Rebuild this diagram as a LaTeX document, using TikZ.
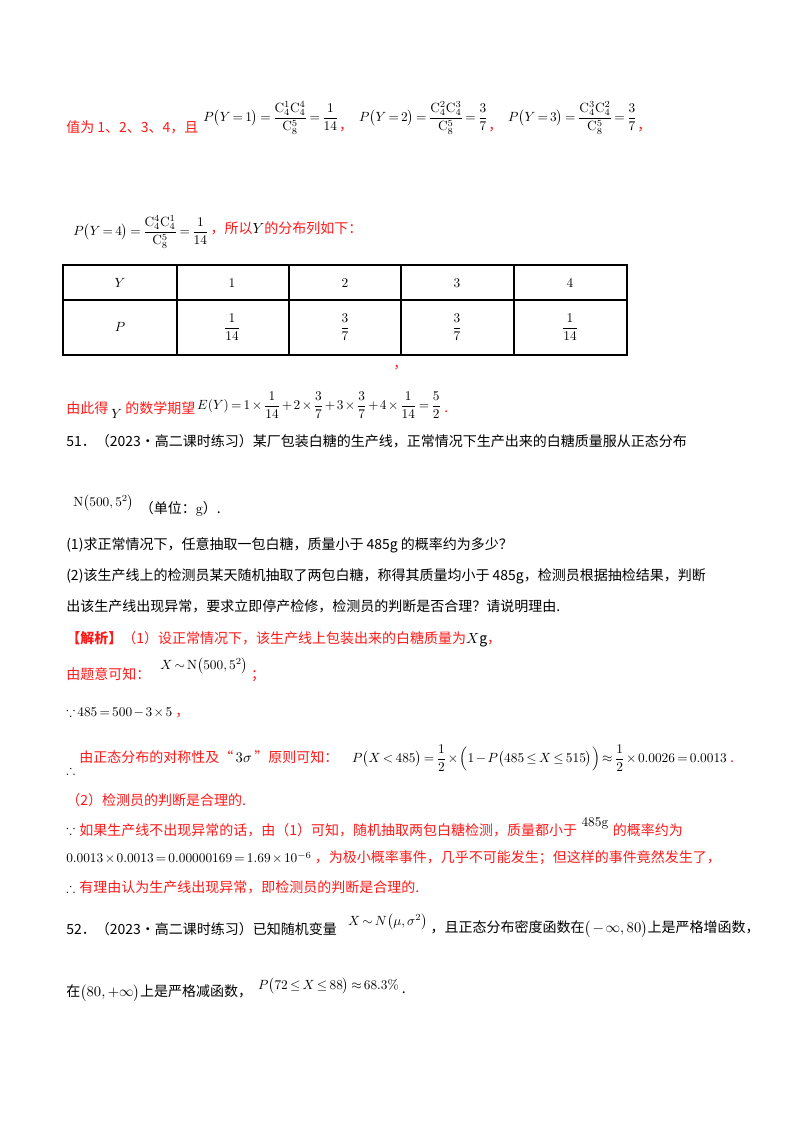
\documentclass[tikz,border=0pt]{standalone}
\usepackage{amsmath,amssymb}
\usepackage{fontspec}
\newfontfamily\cjk{Noto Sans CJK SC}
\definecolor{rd}{HTML}{FF1A1A}
\medmuskip=2mu plus 1mu minus 2mu
\thickmuskip=3mu plus 2mu
\begin{document}
\begin{tikzpicture}[x=0.75pt,y=-0.75pt,
  t/.style={anchor=west,inner sep=0pt,font=\fontsize{10.5}{12}\selectfont\cjk},
  r/.style={t,text=rd},
  m/.style={anchor=west,inner sep=0pt,font=\fontsize{10}{12}\selectfont},
  cell/.style={inner sep=0pt,font=\fontsize{10}{12}\selectfont}]
\useasboundingbox[fill=white] (0,0) rectangle (800,1132);
% line 1
\node[r] (a1) at (66,127) {值为 1、2、3、4，且};
\node[m] (a2) at (203,118) {$P\big(Y=1\big)=\dfrac{\mathrm{C}_4^1\mathrm{C}_4^4}{\mathrm{C}_8^5}=\dfrac{1}{14}$};
\node[r] (a3) at ([yshift=-9]a2.east) {，};
\node[m] (a4) at ([xshift=4]a3.east|-a2) {$P\big(Y=2\big)=\dfrac{\mathrm{C}_4^2\mathrm{C}_4^3}{\mathrm{C}_8^5}=\dfrac{3}{7}$};
\node[r] (a5) at (a4.east|-a3) {，};
\node[m] (a6) at ([xshift=4]a5.east|-a2) {$P\big(Y=3\big)=\dfrac{\mathrm{C}_4^3\mathrm{C}_4^2}{\mathrm{C}_8^5}=\dfrac{3}{7}$};
\node[r] (a7) at (a6.east|-a3) {，};
% line 2
\node[m] (b1) at (73,232) {$P\big(Y=4\big)=\dfrac{\mathrm{C}_4^4\mathrm{C}_4^1}{\mathrm{C}_8^5}=\dfrac{1}{14}$};
\node[r] (b2) at ([xshift=1]b1.east|-0,228) {，所以\textcolor{black}{$Y$}的分布列如下：};
% table
\draw[line width=0.8pt] (63,265) rectangle (627,355);
\draw[line width=0.8pt] (63,300) -- (627,300);
\foreach \xx in {177,289,401,514} \draw[line width=0.8pt] (\xx,265) -- (\xx,355);
\node[cell] (y0) at (120,283) {$Y$};
\node[cell] (p0) at (120,327) {$P$};
\node[cell] (y1) at (232,283) {1};
\node[cell] (y2) at (345,283) {2};
\node[cell] (y3) at (457,283) {3};
\node[cell] (y4) at (570,283) {4};
\node[cell] (p1) at (232,327) {$\dfrac{1}{14}$};
\node[cell] (p2) at (345,327) {$\dfrac{3}{7}$};
\node[cell] (p3) at (457,327) {$\dfrac{3}{7}$};
\node[cell] (p4) at (570,327) {$\dfrac{1}{14}$};
\node[r] (tc) at (393,368) {，};
% expectation
\node[r] (c1) at (66,408) {由此得};
\node[m] (c2) at ([xshift=2]c1.east|-0,414) {$Y$};
\node[r] (c3) at ([xshift=2]c2.east|-c1) {的数学期望};
\node[m] (c4) at ([xshift=1]c3.east|-0,405) {$E(Y)=1\times\dfrac{1}{14}+2\times\dfrac{3}{7}+3\times\dfrac{3}{7}+4\times\dfrac{1}{14}=\dfrac{5}{2}$};
\node[r] (c5) at ([xshift=2]c4.east|-0,412) {.};
% 51
\node[t] (d1) at (66,441) {51．（2023·高二课时练习）某厂包装白糖的生产线，正常情况下生产出来的白糖质量服从正态分布};
\node[m] (d2) at (73,503) {$\mathrm{N}\big(500,5^2\big)$};
\node[t] (d3) at ([xshift=4]d2.east|-0,509) {（单位：$\mathrm{g}$）.};
\node[t] (e1) at (66,545) {(1)求正常情况下，任意抽取一包白糖，质量小于 485g 的概率约为多少？};
\node[t] (e2) at (66,576) {(2)该生产线上的检测员某天随机抽取了两包白糖，称得其质量均小于 485g，检测员根据抽检结果，判断};
\node[t] (e3) at (66,606) {出该生产线出现异常，要求立即停产检修，检测员的判断是否合理？请说明理由.};
% solution
\node[r] (f1) at (66,639) {\textbf{【解析】}（1）设正常情况下，该生产线上包装出来的白糖质量为\textcolor{black}{$X$g}，};
\node[r] (g1) at (66,674) {由题意可知：};
\node[m] (g2) at (160,666) {$X\sim\mathrm{N}\big(500,5^2\big)$};
\node[r] (g3) at ([xshift=2]g2.east|-0,676) {；};
\node[m] (h1) at (66,712) {$\because 485=500-3\times5$};
\node[r] (h2) at ([xshift=2]h1.east|-0,716) {，};
\node[m] (i0) at (66,770) {$\therefore$};
\node[r] (i1) at (79,757) {由正态分布的对称性及“\textcolor{black}{$\,3\sigma\,$}”原则可知：};
\node[m] (i2) at ([xshift=10]i1.east|-0,758) {$P\big(X<485\big)=\dfrac{1}{2}\times\Big(1-P\big(485\leq X\leq515\big)\Big)\approx\dfrac{1}{2}\times0.0026=0.0013$};
\node[r] (i3) at ([xshift=2]i2.east|-0,762) {.};
\node[r] (j1) at (66,800) {（2）检测员的判断是合理的.};
\node[m] (k0) at (66,830) {$\because$};
\node[r] (k1) at (79,830) {如果生产线不出现异常的话，由（1）可知，随机抽取两包白糖检测，质量都小于};
\node[m] (k2) at ([xshift=3]k1.east|-0,824) {$485\mathrm{g}$};
\node[r] (k3) at ([xshift=3]k2.east|-k1) {的概率约为};
\node[m] (l1) at (66,858) {$0.0013\times0.0013=0.00000169=1.69\times10^{-6}$};
\node[r] (l2) at ([xshift=2]l1.east|-0,858) {，为极小概率事件，几乎不可能发生；但这样的事件竟然发生了，};
\node[m] (n0) at (66,888) {$\therefore$};
\node[r] (n1) at (79,887) {有理由认为生产线出现异常，即检测员的判断是合理的.};
% 52
\node[t] (o1) at (66,929) {52．（2023·高二课时练习）已知随机变量};
\node[m] (o2) at ([xshift=8]o1.east|-0,922) {$X\sim N\big(\mu,\sigma^2\big)$};
\node[t] (o3) at ([xshift=2]o2.east|-o1) {，且正态分布密度函数在$\big(-\infty,80\big)$上是严格增函数，};
\node[t] (q1) at (66,993) {在$\big(80,+\infty\big)$上是严格减函数，};
\node[m] (q2) at ([xshift=4]q1.east|-0,986) {$P\big(72\leq X\leq88\big)\approx68.3\%$};
\node[t] (q3) at ([xshift=2]q2.east|-q1) {.};
\end{tikzpicture}
\end{document}
